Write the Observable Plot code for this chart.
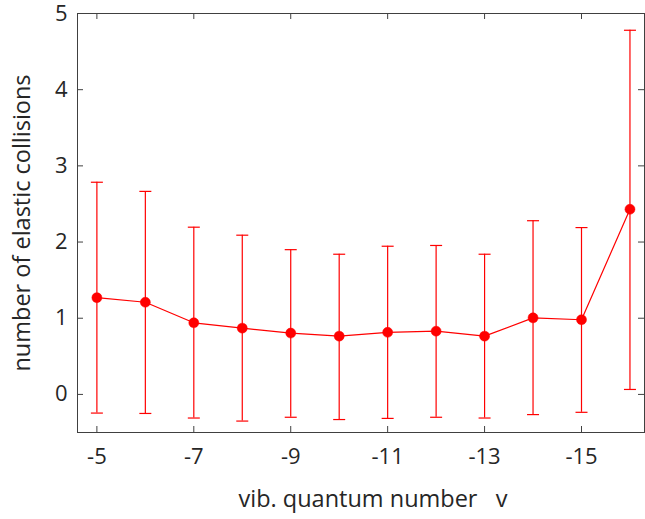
<!DOCTYPE html>
<html>
<head>
<meta charset="utf-8">
<script src="https://cdn.jsdelivr.net/npm/d3@7"></script>
<script src="https://cdn.jsdelivr.net/npm/@observablehq/plot@0.6"></script>
<style>
  html, body { margin: 0; padding: 0; background: #fff; }
  svg { display: block; overflow: visible; }
</style>
</head>
<body>
<div id="chart"></div>
<script>
// Data
const vib   = [-5, -6, -7, -8, -9, -10, -11, -12, -13, -14, -15, -16];
const mean  = [1.27, 1.21, 0.94, 0.87, 0.805, 0.765, 0.815, 0.83, 0.765, 1.005, 0.98, 2.43];
const upper = [2.785, 2.665, 2.195, 2.09, 1.90, 1.84, 1.945, 1.955, 1.84, 2.28, 2.19, 4.78];
const lower = [-0.245, -0.25, -0.31, -0.35, -0.30, -0.33, -0.315, -0.30, -0.31, -0.265, -0.235, 0.065];
const xTicks = [-5, -7, -9, -11, -13, -15];
const yTicks = [0, 1, 2, 3, 4, 5];
const xLabel = "vib. quantum number\u00a0\u00a0\u00a0v";
const yLabel = "number of elastic collisions";

const rows = vib.map((v, i) => ({v, m: mean[i], lo: lower[i], hi: upper[i]}));
const caps = rows.flatMap(d => [{v: d.v, y: d.lo}, {v: d.v, y: d.hi}]);

const capSymbol = {
  draw(context, size) {
    const w = Math.sqrt(size / Math.PI);
    context.moveTo(-w, 0);
    context.lineTo(w, 0);
  }
};

const RED = "#ff0000";
const AX = "#404040";
const FONT = "'Open Sans', 'Noto Sans', sans-serif";

const chart = Plot.plot({
  width: 645,
  height: 519,
  marginLeft: 77,
  marginRight: 1,
  marginTop: 13,
  marginBottom: 87,
  style: {fontFamily: FONT, fontSize: "22px", color: "#262626", background: "#fff", overflow: "visible"},
  x: {type: "linear", domain: [-4.6, -16.3]},
  y: {type: "linear", domain: [-0.5, 5]},
  marks: [
    Plot.frame({stroke: AX, strokeWidth: 1}),
    // inward ticks on all four sides
    Plot.tickX(xTicks, {x: d => d, stroke: AX, insetTop: 413}),
    Plot.tickX(xTicks, {x: d => d, stroke: AX, insetBottom: 413}),
    Plot.tickY(yTicks, {y: d => d, stroke: AX, insetRight: 561}),
    Plot.tickY(yTicks, {y: d => d, stroke: AX, insetLeft: 561}),
    Plot.axisX({ticks: xTicks, tickSize: 0, tickPadding: 16, tickFormat: d => String(d).replace("\u2212", "-"), label: null, fontSize: 22, fill: "#262626"}),
    Plot.axisY({ticks: yTicks, tickSize: 0, tickPadding: 10, tickFormat: d => String(d), label: null, fontSize: 22, fill: "#262626"}),
    // error bars
    Plot.ruleX(rows, {x: "v", y1: "lo", y2: "hi", stroke: RED, strokeWidth: 1.2}),
    Plot.dot(caps, {x: "v", y: "y", symbol: capSymbol, r: 6, stroke: RED, strokeWidth: 1.2, fill: "none"}),
    // connecting line and markers
    Plot.line(rows, {x: "v", y: "m", stroke: RED, strokeWidth: 1.2}),
    Plot.dot(rows, {x: "v", y: "m", r: 5, fill: RED, stroke: RED, strokeWidth: 0.5}),
    // axis titles
    Plot.text([xLabel], {frameAnchor: "bottom", text: d => d, textAnchor: "middle", lineAnchor: "middle", dx: 12, dy: 67, fontSize: 23.5, fill: "#262626"}),
    Plot.text([yLabel], {frameAnchor: "left", text: d => d, textAnchor: "middle", lineAnchor: "middle", rotate: -90, dx: -55, dy: 0, fontSize: 23.5, fill: "#262626"})
  ]
});

document.getElementById("chart").appendChild(chart);
</script>
</body>
</html>
